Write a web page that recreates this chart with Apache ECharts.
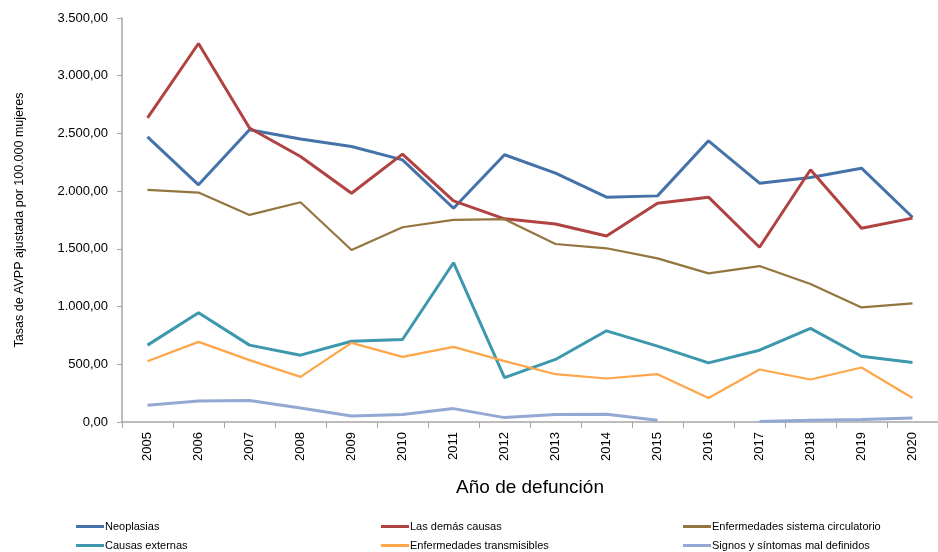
<!DOCTYPE html>
<html>
<head>
<meta charset="utf-8">
<script src="https://cdn.jsdelivr.net/npm/echarts@6/dist/echarts.min.js"></script>
<style>
html, body { margin: 0; padding: 0; background: #fff; }
#chart { width: 938px; height: 552px; }
</style>
</head>
<body>
<div id="chart"></div>
<script>
var chart = echarts.init(document.getElementById('chart'));

var years = ['2005', '2006', '2007', '2008', '2009', '2010', '2011', '2012', '2013', '2014', '2015', '2016', '2017', '2018', '2019', '2020'];
var neoplasias = [2470, 2055, 2532, 2451, 2387, 2271, 1852, 2315, 2156, 1948, 1959, 2436, 2069, 2118, 2199, 1774];
var demasCausas = [2634, 3279, 2547, 2300, 1982, 2321, 1916, 1760, 1716, 1612, 1896, 1948, 1514, 2185, 1679, 1766];
var circulatorio = [2011, 1988, 1794, 1904, 1490, 1687, 1751, 1757, 1542, 1505, 1418, 1288, 1351, 1195, 993, 1028];
var externas = [666, 946, 666, 579, 700, 715, 1380, 385, 542, 790, 657, 512, 622, 811, 570, 516];
var transmisibles = [527, 694, 536, 391, 686, 564, 651, 527, 414, 377, 414, 208, 455, 368, 472, 208];
var signos = [145, 182, 186, 122, 52, 64, 116, 38, 64, 67, 15, null, 5, 15, 22, 35];

var font = "'Liberation Sans', Arial, sans-serif";

function fmt(v) {
    var s = Math.round(v).toString().replace(/\B(?=(\d{3})+(?!\d))/g, '.');
    return s + ',00';
}

function mkSeries(name, data, color, width) {
    return {
        name: name,
        type: 'line',
        data: data,
        symbol: 'none',
        lineStyle: { color: color, width: width },
        itemStyle: { color: color },
        emphasis: { disabled: true }
    };
}

// one legend per item so the 3x2 layout is fixed
function mkLegend(left, top, name) {
    return {
        left: left,
        top: top,
        padding: 0,
        itemWidth: 28,
        itemHeight: 3,
        icon: 'rect',
        textStyle: { fontFamily: font, fontSize: 11, color: '#000', padding: [0, 0, 0, -4] },
        data: [name]
    };
}

var option = {
    animation: false,
    backgroundColor: '#fff',
    grid: { left: 122, top: 18, right: -9, bottom: 130 },
    legend: [
        mkLegend(76, 521, 'Neoplasias'),
        mkLegend(76, 540, 'Causas externas'),
        mkLegend(381, 521, 'Las demás causas'),
        mkLegend(381, 540, 'Enfermedades transmisibles'),
        mkLegend(683, 521, 'Enfermedades sistema circulatorio'),
        mkLegend(683, 540, 'Signos y síntomas mal definidos')
    ],
    xAxis: {
        type: 'category',
        data: years,
        boundaryGap: true,
        name: 'Año de defunción',
        nameLocation: 'middle',
        nameGap: 56,
        nameTextStyle: { fontFamily: font, fontSize: 19, color: '#000' },
        axisLine: { lineStyle: { color: '#a6a6a6', width: 1.5 } },
        axisTick: { show: true, length: 6, lineStyle: { color: '#a6a6a6' } },
        axisLabel: { rotate: 90, fontFamily: font, fontSize: 13, color: '#000', margin: 10 }
    },
    yAxis: {
        type: 'value',
        min: 0,
        max: 3500,
        interval: 500,
        name: 'Tasas de AVPP ajustada por 100.000 mujeres',
        nameLocation: 'middle',
        nameGap: 96,
        nameTextStyle: { fontFamily: font, fontSize: 12.5, color: '#000' },
        axisLine: { show: true, lineStyle: { color: '#a6a6a6', width: 1.5 } },
        axisTick: { show: true, length: 5, lineStyle: { color: '#a6a6a6' } },
        splitLine: { show: false },
        axisLabel: { fontFamily: font, fontSize: 13, color: '#000', margin: 14, formatter: fmt }
    },
    series: [
        mkSeries('Neoplasias', neoplasias, '#4572a9', 3),
        mkSeries('Las demás causas', demasCausas, '#b04342', 3),
        mkSeries('Enfermedades sistema circulatorio', circulatorio, '#94753f', 2.2),
        mkSeries('Causas externas', externas, '#3d98ad', 3),
        mkSeries('Enfermedades transmisibles', transmisibles, '#ffa64a', 2.2),
        mkSeries('Signos y síntomas mal definidos', signos, '#93a9d3', 3)
    ]
};

chart.setOption(option);
</script>
</body>
</html>
